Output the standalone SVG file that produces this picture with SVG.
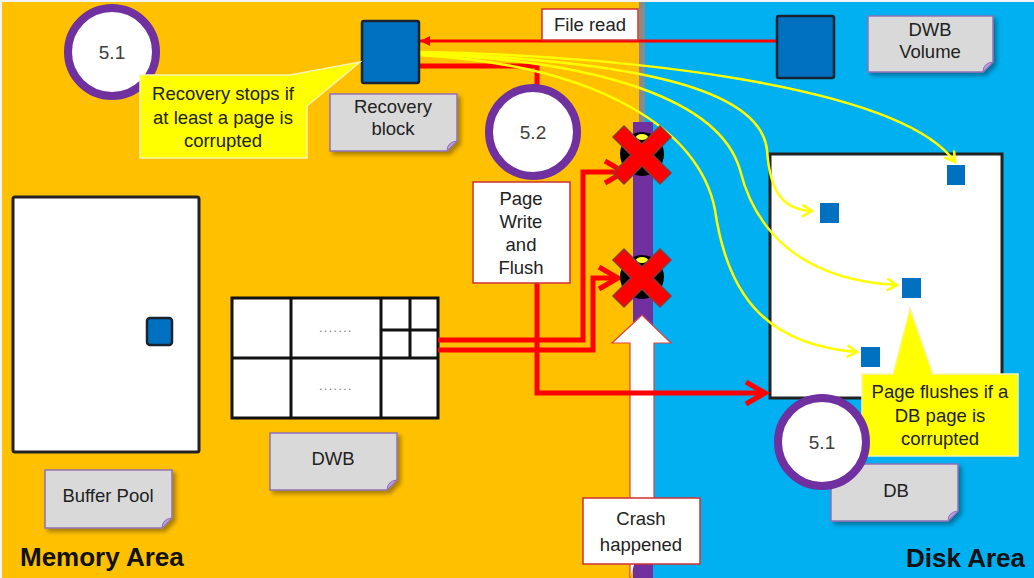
<svg xmlns="http://www.w3.org/2000/svg" width="1034" height="578" viewBox="0 0 1034 578">
<style>
.t{font-family:"Liberation Sans",Arial,sans-serif;font-size:18.5px;fill:#222;text-anchor:middle}
.num{font-family:"Liberation Sans",Arial,sans-serif;font-size:19px;fill:#404040;text-anchor:middle}
.big{font-family:"Liberation Sans",Arial,sans-serif;font-size:26px;font-weight:bold;fill:#111}
.note{fill:#D9D9D9;stroke:#9070B8;stroke-width:1.5;filter:url(#sh)}
.fold{fill:#B89AE0;stroke:#9070B8;stroke-width:1}
.ring{fill:#fff;stroke:#7030A0;stroke-width:8}
.blk{fill:#0070C0;stroke:#1a2430;stroke-width:2.5}
.pg{fill:#0070C0}
.frame{fill:#fff;stroke:#222;stroke-width:3}
.grid{stroke:#111;stroke-width:3;fill:none}
.yl{fill:none;stroke:#FFFF00;stroke-width:2.5;marker-end:url(#ya)}
.rd{fill:none;stroke:#FF0000;stroke-width:5;marker-end:url(#ra)}
.rdn{fill:none;stroke:#FF0000;stroke-width:5}
.x{fill:#FF0000;stroke:#8a3a3a;stroke-width:1.5}
</style>
<defs>
<filter id="sh" x="-10%" y="-10%" width="130%" height="140%"><feDropShadow dx="3" dy="3" stdDeviation="2" flood-color="#000" flood-opacity="0.35"/></filter>
<marker id="ya" markerUnits="userSpaceOnUse" markerWidth="16" markerHeight="16" refX="12" refY="7" orient="auto"><path d="M2,1 L12,7 L2,13" fill="none" stroke="#FFFF00" stroke-width="2.5"/></marker>
<marker id="ra" markerUnits="userSpaceOnUse" markerWidth="30" markerHeight="30" refX="22" refY="13" orient="auto"><path d="M3,2 L22,13 L3,24" fill="none" stroke="#FF0000" stroke-width="5"/></marker>
<marker id="rt" markerUnits="userSpaceOnUse" markerWidth="14" markerHeight="14" refX="10" refY="6" orient="auto"><path d="M0,1 L10,6 L0,11 Z" fill="#FF0000"/></marker>
</defs>

<g id="background">
<rect x="0" y="0" width="1034" height="578" fill="#f4f4f4"/>
<rect x="2" y="2" width="640" height="576" fill="#FFC000"/>
<rect x="642" y="2" width="392" height="576" fill="#00B0F0"/>
<rect x="639" y="2" width="6" height="576" fill="#8a8a8a"/>
<rect x="633" y="122" width="20" height="456" fill="#7030A0"/>
</g>

<g id="area-labels">
<text class="big" x="20" y="566">Memory Area</text>
<text class="big" x="906" y="567">Disk Area</text>
</g>

<g id="buffer-pool">
<rect class="frame" x="13" y="197" width="186" height="255" rx="2"/>
<rect class="blk" x="147" y="318" width="25" height="27" rx="3"/>
</g>
<g id="buffer-pool-label">
<path class="note" d="M45,470 H172 V518 L162,528 H45 Z"/>
<path class="fold" d="M172,518 L162,528 Q162,519 172,518 Z"/>
<text class="t" x="108" y="502">Buffer Pool</text>
</g>

<g id="dwb">
<rect x="232" y="298" width="206" height="120" fill="#fff"/>
<path class="grid" d="M232,298 H438 V418 H232 Z M291,298 V418 M381,298 V418 M232,358 H438 M410,298 V358 M381,330 H438"/>
<text x="336" y="332" font-family="Liberation Sans,Arial,sans-serif" font-size="12" fill="#777" text-anchor="middle" letter-spacing="1.5">.......</text>
<text x="336" y="390" font-family="Liberation Sans,Arial,sans-serif" font-size="12" fill="#777" text-anchor="middle" letter-spacing="1.5">.......</text>
</g>
<g id="dwb-label">
<path class="note" d="M270,433 H397 V480 L387,490 H270 Z"/>
<path class="fold" d="M397,480 L387,490 Q387,481 397,480 Z"/>
<text class="t" x="333" y="465">DWB</text>
</g>

<g id="db">
<rect class="frame" x="770" y="154" width="232" height="244"/>
<rect class="pg" x="947" y="165" width="18" height="20"/>
<rect class="pg" x="820" y="203" width="19" height="20"/>
<rect class="pg" x="902" y="278" width="19" height="20"/>
<rect class="pg" x="861" y="347" width="19" height="20"/>
</g>

<g id="connectors">
<path class="rdn" d="M418,66 H537 V88"/>
<path d="M777,41 H420" fill="none" stroke="#FF0000" stroke-width="3" marker-end="url(#rt)"/>
<path class="yl" d="M418,52 C620,55 900,85 955,162"/>
<path class="yl" d="M418,53 C620,60 760,85 767,150 C770,195 785,210 812,211"/>
<path class="yl" d="M418,54 C600,60 720,100 740,170 C755,230 800,280 897,285"/>
<path class="yl" d="M418,55 C600,65 700,130 715,210 C728,300 770,345 857,352"/>
<path class="rd" d="M438,340 H583 V172 H624"/>
<path class="rd" d="M438,350 H593 V278 H618"/>
</g>

<g id="crash-arrow">
<path d="M630,578 V343 H612 L642,315 L671,343 H654 V500" fill="#fff" stroke="#E04040" stroke-width="1.2"/>
</g>

<g id="flush-connector">
<path class="rd" d="M537,283 V393 H765"/>
</g>

<g id="cross-top">
<circle cx="642" cy="154" r="22" fill="#000"/>
<ellipse cx="642" cy="137" rx="6" ry="3" fill="#FFFF33"/>
<path class="x" transform="translate(642,155)" d="M-29,-18 L-18,-29 L0,-11 L18,-29 L29,-18 L11,0 L29,18 L18,29 L0,11 L-18,29 L-29,18 L-11,0 Z"/>
</g>
<g id="cross-bottom">
<circle cx="642" cy="277" r="22" fill="#000"/>
<ellipse cx="642" cy="260" rx="6" ry="3" fill="#FFFF33"/>
<path class="x" transform="translate(642,278)" d="M-29,-18 L-18,-29 L0,-11 L18,-29 L29,-18 L11,0 L29,18 L18,29 L0,11 L-18,29 L-29,18 L-11,0 Z"/>
</g>

<g id="recovery-block">
<rect class="blk" x="362" y="21" width="57" height="62" rx="2"/>
</g>
<g id="recovery-block-label">
<path class="note" d="M330,94 H457 V141 L447,151 H330 Z"/>
<path class="fold" d="M457,141 L447,151 Q447,142 457,141 Z"/>
<text class="t" x="393" y="113">Recovery</text>
<text class="t" x="393" y="135">block</text>
</g>

<g id="step-5-1-top">
<circle class="ring" cx="112" cy="52" r="44"/>
<text class="num" x="112" y="59">5.1</text>
</g>

<g id="callout-recovery">
<path d="M140,75 H290 L360,62 L307,106 V158 H140 Z" fill="#FFFF00" stroke="#f5f5b0" stroke-width="1.5"/>
<text class="t" x="223" y="100">Recovery stops if</text>
<text class="t" x="223" y="124">at least a page is</text>
<text class="t" x="223" y="147">corrupted</text>
</g>

<g id="file-read">
<rect x="542" y="9" width="96" height="31" fill="#fff" stroke="#D03030" stroke-width="1.5"/>
<text class="t" x="590" y="31">File read</text>
</g>

<g id="dwb-volume">
<rect class="blk" x="777" y="16" width="57" height="62" rx="2"/>
</g>
<g id="dwb-volume-label">
<path class="note" d="M868,16 H993 V62 L983,72 H868 Z"/>
<path class="fold" d="M993,62 L983,72 Q983,63 993,62 Z"/>
<text class="t" x="930" y="36">DWB</text>
<text class="t" x="930" y="58">Volume</text>
</g>

<g id="step-5-2">
<circle class="ring" cx="533" cy="132" r="44"/>
<text class="num" x="533" y="139">5.2</text>
</g>

<g id="page-write">
<rect x="473" y="182" width="97" height="101" fill="#fff" stroke="#D03030" stroke-width="1.5"/>
<text class="t" x="521" y="205">Page</text>
<text class="t" x="521" y="228">Write</text>
<text class="t" x="521" y="251">and</text>
<text class="t" x="521" y="274">Flush</text>
</g>

<g id="crash-label">
<rect x="583" y="498" width="117" height="66" fill="#fff" stroke="#D03030" stroke-width="1.5"/>
<text class="t" x="641" y="525">Crash</text>
<text class="t" x="641" y="551">happened</text>
</g>

<g id="callout-flush">
<path d="M862,374 H893 L910,308 L933,374 H1018 V456 H862 Z" fill="#FFFF00" stroke="#f5f5b0" stroke-width="1.5"/>
<text class="t" x="940" y="398">Page flushes if a</text>
<text class="t" x="940" y="422">DB page is</text>
<text class="t" x="940" y="445">corrupted</text>
</g>

<g id="db-label">
<path class="note" d="M831,464 H958 V511 L948,521 H831 Z"/>
<path class="fold" d="M958,511 L948,521 Q948,512 958,511 Z"/>
<text class="t" x="896" y="497">DB</text>
</g>

<g id="step-5-1-bottom">
<circle class="ring" cx="822" cy="442" r="44"/>
<text class="num" x="822" y="449">5.1</text>
</g>
</svg>
